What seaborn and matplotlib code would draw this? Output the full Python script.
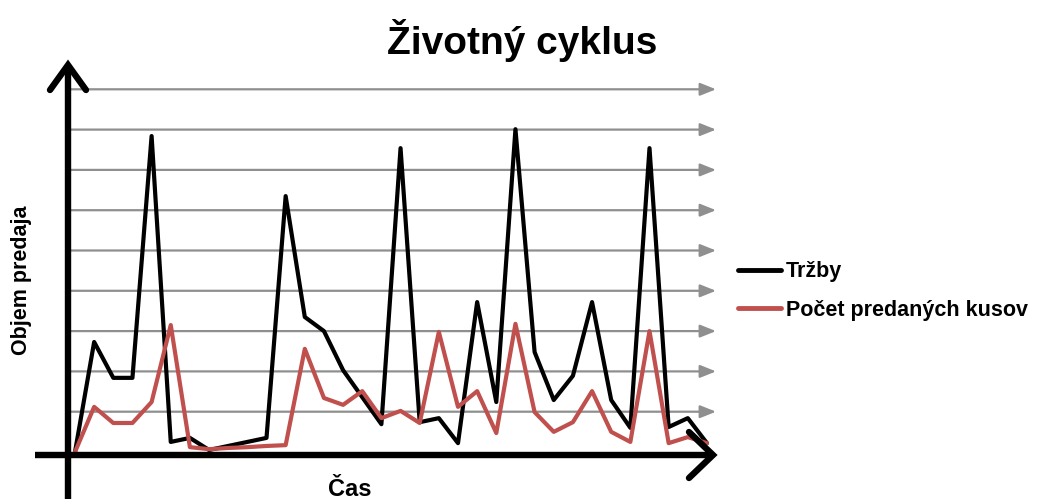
import numpy as np
import pandas as pd
import matplotlib
matplotlib.use("Agg")
import matplotlib.pyplot as plt
import seaborn as sns

# ---- data ----
obdobie = list(range(34))
trzby = [0, 273, 184, 184, 784, 25, 35, 5, 15, 25, 35, 635, 335, 300, 203, 136, 69,
         754, 74, 84, 22, 372, 124, 801, 248, 129, 189, 372, 129, 60, 754, 62, 84, 22]
kusy = [0, 112, 72, 72, 124, 315, 12, 7, 10, 12, 15, 17, 256, 134, 117, 151, 84,
        102, 72, 298, 112, 151, 47, 318, 99, 50, 74, 151, 50, 25, 300, 22, 37, 22]
series_names = ["Tržby", "Počet predaných kusov"]
series_colors = ["#000000", "#C0504D"]
grid_values = [100, 200, 300, 400, 500, 600, 700, 800, 900]
title = "Životný cyklus"
xlabel = "Čas"
ylabel = "Objem predaja"

df = pd.DataFrame({
    "x": obdobie * 2,
    "v": trzby + kusy,
    "s": [series_names[0]] * len(trzby) + [series_names[1]] * len(kusy),
})

sns.set_theme(style="white")
plt.rcParams["font.family"] = ["Liberation Sans", "DejaVu Sans"]
plt.rcParams["text.color"] = "black"

W, H = 1043, 499
fig = plt.figure(figsize=(W / 100, H / 100), dpi=100)
ax = fig.add_axes([0, 0, 1, 1])
ax.set_axis_off()

# pixel <-> data mapping
x0px, dxpx = 75.0, 19.15
y0px, dypx = 452.0, 0.403
ax.set_xlim((0 - x0px) / dxpx, (W - x0px) / dxpx)
ax.set_ylim((y0px - H) / dypx, y0px / dypx)

def px2x(p):
    return (p - x0px) / dxpx

def px2y(p):
    return (y0px - p) / dypx

# gridlines with arrow heads
for g in grid_values:
    ax.annotate("", xy=(px2x(716), g), xytext=(px2x(71), g),
                arrowprops=dict(arrowstyle="-|>,head_length=0.8,head_width=0.32",
                                color="#8f8f8f", lw=1.6, shrinkA=0, shrinkB=0),
                zorder=1)

# data lines
sns.lineplot(data=df, x="x", y="v", hue="s", palette=dict(zip(series_names, series_colors)),
             linewidth=3.0, ax=ax, legend=False, zorder=3, sort=False)

# axes with open arrow heads
lw_ax = 4.6
yax = px2y(455)
ax.plot([px2x(35), px2x(713)], [yax, yax], color="black", lw=lw_ax,
        solid_capstyle="butt", zorder=4)
ax.plot([px2x(689), px2x(713), px2x(689)], [px2y(432), yax, px2y(478)],
        color="black", lw=lw_ax, solid_capstyle="round", solid_joinstyle="miter", zorder=4)
xax = px2x(68)
ax.plot([xax, xax], [px2y(H + 5), px2y(65)], color="black", lw=lw_ax,
        solid_capstyle="butt", zorder=4)
ax.plot([px2x(50), xax, px2x(86)], [px2y(90), px2y(65), px2y(90)],
        color="black", lw=lw_ax, solid_capstyle="round", solid_joinstyle="miter", zorder=4)

# texts
fig.text(522 / W, 1 - 40 / H, title, ha="center", va="center",
         fontsize=28, fontweight="bold", color="black")
fig.text(350 / W, 1 - 489 / H, xlabel, ha="center", va="center",
         fontsize=17, fontweight="bold", color="black")
fig.text(22 / W, 1 - 280 / H, ylabel, ha="center", va="center", rotation=90,
         fontsize=15.5, fontweight="bold", color="black")

# legend
from matplotlib.lines import Line2D
handles = [Line2D([0], [0], color=c, lw=3.5) for c in series_colors]
leg = fig.legend(handles, series_names, loc="center left",
                 bbox_to_anchor=(738 / W, 1 - 291 / H), frameon=False,
                 borderpad=0, borderaxespad=0, handlelength=2.0, handletextpad=0.22,
                 labelspacing=0.8, prop=dict(family="Liberation Sans", weight="bold", size=15.5))
for t in leg.get_texts():
    t.set_color("black")

fig.savefig("out.png", dpi=100, facecolor="white")
